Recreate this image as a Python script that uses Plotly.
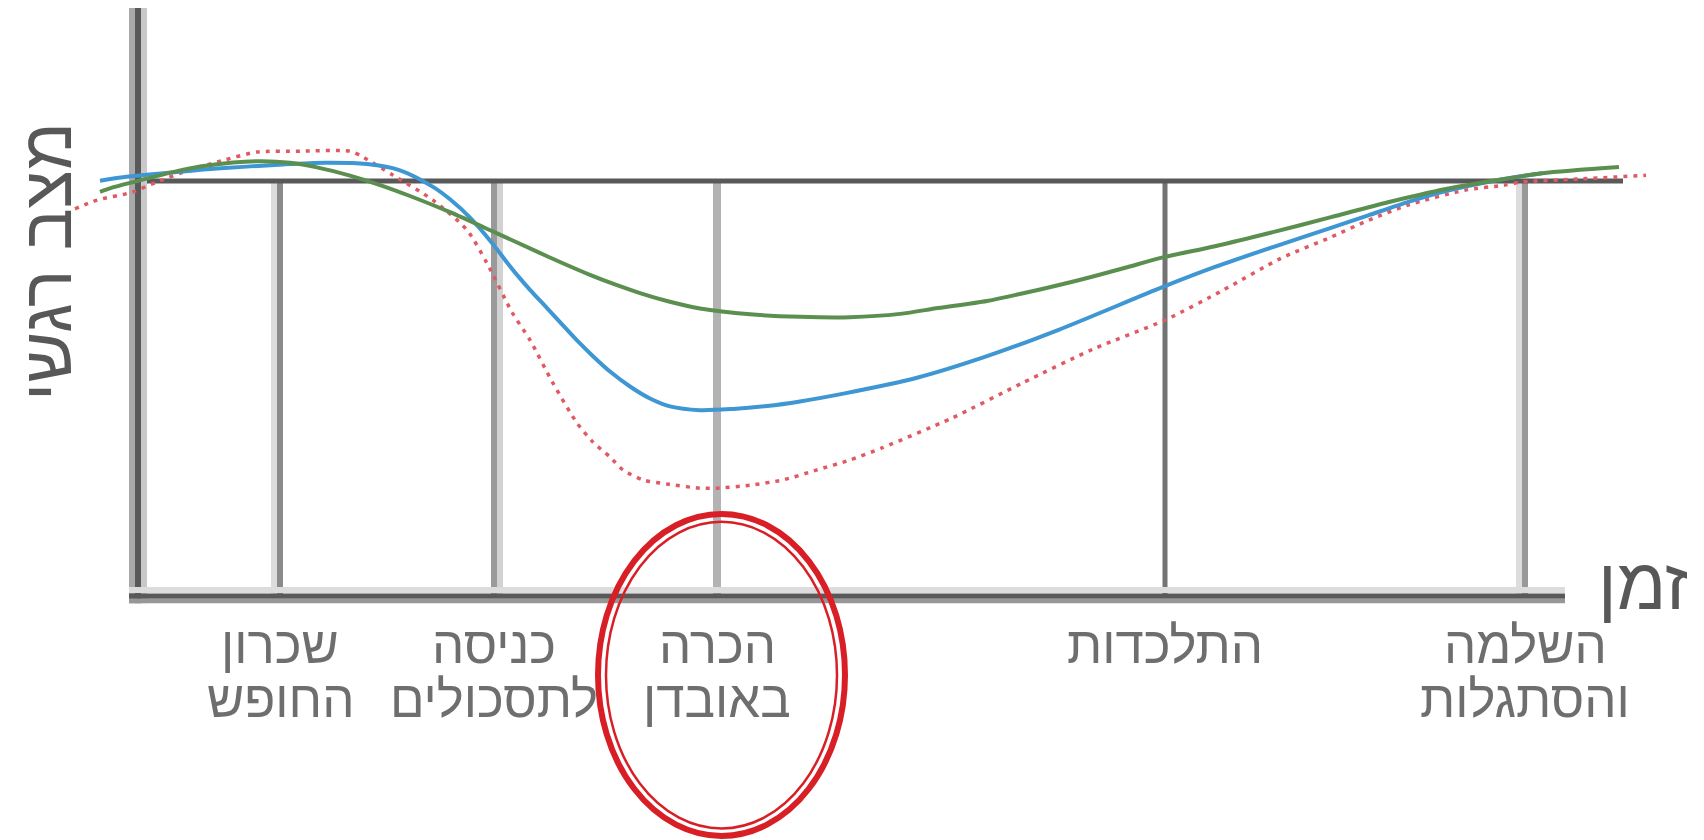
import plotly.graph_objects as go

# time runs left to right (arbitrary units); emotional state scaled so the "normal" level = 100
baseline = 100

stage_x = [14.2, 35.6, 57.9, 102.7, 138.7]
stage_top = ["שכרון", "כניסה", "הכרה", "התלכדות", "השלמה"]
stage_bottom = ["החופש", "לתסכולים", "באובדן", "", "והסתגלות"]

green_x = [-3.8, -2.6, 0.9, 3.9, 6.2, 9.5, 12.4, 15.2, 17.9, 21.2, 24.5, 27.2, 31.2, 35.9,
           39.9, 42.2, 45.2, 47.9, 50.2, 52.9, 56.2, 61.2, 66.2, 71.2, 76.2, 80.0, 84.9,
           88.4, 92.0, 95.5, 99.0, 102.5, 107.7, 113.5, 119.3, 125.0, 130.8, 136.6, 140.4, 148.1]
green_y = [97.4, 98.4, 100.6, 102.4, 103.5, 104.5, 104.8, 104.4, 103.3, 101.3, 98.8, 96.4, 92.5, 87.4,
           83.0, 80.5, 77.4, 74.9, 73.0, 71.1, 69.3, 67.9, 67.3, 67.2, 68.0, 69.4, 71.1,
           72.9, 74.9, 77.0, 79.3, 81.6, 84.3, 87.7, 91.3, 94.9, 98.1, 100.5, 101.9, 103.4]

blue_x = [-3.8, -1.5, 4.5, 7.9, 14.5, 18.7, 22.9, 26.2, 29.5, 31.2, 33.2, 35.5, 36.9, 37.9,
          39.2, 40.9, 42.2, 43.9, 45.5, 47.2, 49.2, 51.2, 53.2, 56.2, 59.5, 62.9, 66.2, 70.8,
          77.9, 84.9, 92.0, 102.5, 107.7, 113.5, 119.3, 123.1, 127.2, 130.8, 136.6, 140.4]
blue_y = [100.1, 100.9, 102.3, 103.0, 104.0, 104.4, 104.1, 102.6, 98.6, 95.6, 91.2, 84.8, 80.4, 77.4,
          73.8, 69.4, 66.0, 61.6, 57.8, 54.1, 50.5, 47.6, 45.7, 44.8, 45.1, 45.8, 46.9, 48.9,
          52.6, 57.8, 64.1, 74.5, 79.3, 84.1, 88.7, 91.8, 95.1, 97.6, 100.5, 101.9]

red_x = [-6.3, -4.1, -0.6, 1.9, 5.2, 8.7, 11.9, 16.2, 21.2, 22.5, 25.5, 29.5, 32.9, 34.9, 37.4,
         39.2, 41.5, 43.9, 45.5, 47.2, 48.5, 50.5, 52.9, 56.2, 57.9, 61.2, 64.5, 67.9, 71.2,
         74.4, 81.4, 88.4, 95.5, 102.7, 108.5, 114.3, 119.3, 123.1, 127.0, 132.7, 136.6,
         138.5, 144.2, 150.8]
red_y = [93.3, 95.4, 97.3, 99.8, 102.7, 105.1, 107.0, 107.2, 107.2, 105.8, 101.4, 95.4, 88.2, 80.2, 68.4,
         61.7, 51.3, 41.7, 37.1, 33.5, 30.4, 28.0, 27.0, 26.0, 26.0, 26.7, 28.0, 30.4, 32.8,
         35.7, 42.9, 51.3, 59.5, 66.5, 73.7, 81.4, 86.5, 90.6, 94.2, 97.8, 99.0,
         99.8, 100.5, 101.4]

AXIS_DARK = "#595959"
FONT = "Liberation Sans"

fig = go.Figure()

# red (dotted) under blue under green
fig.add_trace(go.Scatter(x=red_x, y=red_y, mode="lines",
                         line=dict(color="#df5a63", width=3.5, dash="4px,6px", shape="spline", smoothing=0.7)))
fig.add_trace(go.Scatter(x=blue_x, y=blue_y, mode="lines",
                         line=dict(color="#3e96d3", width=4, shape="spline", smoothing=0.8)))
fig.add_trace(go.Scatter(x=green_x, y=green_y, mode="lines",
                         line=dict(color="#5b8f4f", width=4, shape="spline", smoothing=0.8)))

shapes = []


def vline(x, y0, y1, color, width):
    shapes.append(dict(type="line", xref="x", yref="y", x0=x, x1=x, y0=y0, y1=y1,
                       line=dict(color=color, width=width), layer="below"))


def hline(y, x0, x1, color, width):
    shapes.append(dict(type="line", xref="x", yref="y", x0=x0, x1=x1, y0=y, y1=y,
                       line=dict(color=color, width=width), layer="below"))


# stage separators (colour / width per stage, as drawn in the original)
stage_styles = [("#8a8a8a", 6, -0.6, "#dcdcdc"),
                ("#9a9a9a", 6, 0.6, "#d2d2d2"),
                ("#b3b3b3", 8, None, None),
                ("#737373", 5, None, None),
                ("#999999", 6, -0.6, "#dddddd")]
for sx, (col, w, off, shade) in zip(stage_x, stage_styles):
    if off is not None:
        vline(sx + off, 0, baseline, shade, 6)
    vline(sx, 0, baseline, col, w)

# baseline (normal emotional level)
hline(baseline, 0, 148.5, AXIS_DARK, 5)

# axes with their soft grey edges
vline(-0.6, -1.7, 141.9, "#a9a9a9", 6)
vline(0.6, -1.7, 141.9, "#c9c9c9", 6)
vline(0, -1.7, 141.9, AXIS_DARK, 6)
hline(1.45, -0.9, 142.7, "#dcdcdc", 6)
hline(-1.15, -0.9, 142.7, "#979797", 5)
hline(0, -0.9, 142.7, AXIS_DARK, 5)

# double red ring around the "loss" stage
shapes.append(dict(type="circle", xref="x", yref="y", x0=46.0, x1=70.7, y0=-57.8, y1=19.8,
                   line=dict(color="#d81f26", width=6)))
shapes.append(dict(type="circle", xref="x", yref="y", x0=46.8, x1=69.9, y0=-56.0, y1=17.9,
                   line=dict(color="#d81f26", width=2.5)))

annotations = []
for sx, top, bottom in zip(stage_x, stage_top, stage_bottom):
    annotations.append(dict(x=sx, y=-11.9, xref="x", yref="y", text=top, showarrow=False,
                            xanchor="center", yanchor="middle",
                            font=dict(family=FONT, size=51, color="#6e6e6e")))
    if bottom:
        annotations.append(dict(x=sx, y=-24.8, xref="x", yref="y", text=bottom, showarrow=False,
                                xanchor="center", yanchor="middle",
                                font=dict(family=FONT, size=51, color="#6e6e6e")))

annotations.append(dict(x=-9.1, y=80.5, xref="x", yref="y", text="מצב רגשי", textangle=-90,
                        showarrow=False, xanchor="center", yanchor="middle",
                        font=dict(family=FONT, size=70, color="#585858")))
annotations.append(dict(x=150.5, y=2.9, xref="x", yref="y", text="זמן", showarrow=False,
                        xanchor="center", yanchor="middle",
                        font=dict(family=FONT, size=72, color="#585858")))

# the page body adds an 8px offset, so the ranges are shifted by that amount
fig.update_layout(
    width=1704, height=840,
    margin=dict(l=0, r=0, t=0, b=0, pad=0),
    paper_bgcolor="white", plot_bgcolor="white",
    showlegend=False,
    shapes=shapes, annotations=annotations,
    xaxis=dict(range=[-13.0, 157.4], visible=False, fixedrange=True),
    yaxis=dict(range=[-60.7, 141.7], visible=False, fixedrange=True),
)

fig.write_html("out.html", config={"displayModeBar": False})
